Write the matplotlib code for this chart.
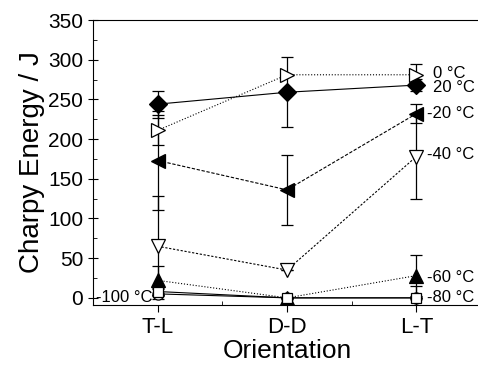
import matplotlib
matplotlib.use("Agg")
import matplotlib.pyplot as plt
from matplotlib.ticker import MultipleLocator

plt.rcParams["font.family"] = ["Liberation Sans", "DejaVu Sans"]

ORIENT = ["T-L", "D-D", "L-T"]

# Charpy energy (J) and error per test temperature, T-L / D-D / L-T
E_20 = [244, 259, 268]
ERR_20 = [17, 44, 8]
E_0 = [211, 281, 281]
ERR_0 = [19, 0, 13]
E_M20 = [173, 136, 232]
ERR_M20 = [62, 44, 12]
E_M40 = [65, 35, 178]
ERR_M40 = [63, 0, 54]
E_M60 = [22, 0, 28]
ERR_M60 = [18, 0, 26]
E_M80 = [5, 0, 0]
ERR_M80 = [6, 0, 15]
E_M100 = [8, 0, 0]
ERR_M100 = [4, 0, 0]

LABELS = ["0 °C", "20 °C", "-20 °C", "-40 °C", "-60 °C", "-80 °C", "-100 °C"]

series = [
    (E_20, ERR_20, "D", "black", "-", 9),
    (E_0, ERR_0, ">", "white", ":", 10),
    (E_M20, ERR_M20, "<", "black", (0, (3, 1.5)), 10),
    (E_M40, ERR_M40, "v", "white", (0, (2, 1.5)), 10),
    (E_M60, ERR_M60, "^", "black", ":", 10),
    (E_M80, ERR_M80, "o", "white", "-", 8),
    (E_M100, ERR_M100, "s", "white", "-", 6.5),
]

fig = plt.figure(figsize=(4.78, 3.69), dpi=100)
ax = fig.add_axes([93 / 478, 64 / 369, 388 / 478, 285 / 369])

x = [1, 2, 3]
for vals, errs, mk, fc, ls, ms in series:
    ax.errorbar(x, vals, yerr=errs, fmt="none", ecolor="black", elinewidth=0.9,
                capsize=4, capthick=0.9, zorder=2)
    ax.plot(x, vals, color="black", ls=ls, lw=0.8, marker=mk, ms=ms,
            mfc=fc, mec="black", mew=0.9, zorder=3)

# temperature labels beside the curves
tfs = 12
ax.text(3.13, E_0[2] + 2, LABELS[0], fontsize=tfs, va="center", ha="left")
ax.text(3.13, E_20[2] - 3, LABELS[1], fontsize=tfs, va="center", ha="left")
ax.text(3.08, E_M20[2], LABELS[2], fontsize=tfs, va="center", ha="left")
ax.text(3.08, E_M40[2] + 2, LABELS[3], fontsize=tfs, va="center", ha="left")
ax.text(3.08, E_M60[2] - 2, LABELS[4], fontsize=tfs, va="center", ha="left")
ax.text(3.08, E_M80[2], LABELS[5], fontsize=tfs, va="center", ha="left")
ax.text(0.525, E_M100[0] - 7, LABELS[6], fontsize=tfs, va="center", ha="left")

ax.set_xlim(0.5, 3.5)
ax.set_ylim(-9, 350)
ax.set_xticks(x)
ax.set_xticklabels(ORIENT)
ax.xaxis.set_minor_locator(MultipleLocator(0.5))
ax.yaxis.set_major_locator(MultipleLocator(50))
ax.yaxis.set_minor_locator(MultipleLocator(25))
ax.tick_params(axis="y", which="major", direction="inout", length=7, labelsize=15)
ax.tick_params(axis="y", which="minor", direction="in", length=3)
ax.tick_params(axis="x", which="major", direction="out", length=5, labelsize=16)
ax.tick_params(axis="x", which="minor", direction="in", length=3)
ax.spines["right"].set_visible(False)

ax.set_xlabel("Orientation", fontsize=19, labelpad=1)
ax.set_ylabel("Charpy Energy / J", fontsize=20, labelpad=2)

fig.savefig("out.png", dpi=100)
